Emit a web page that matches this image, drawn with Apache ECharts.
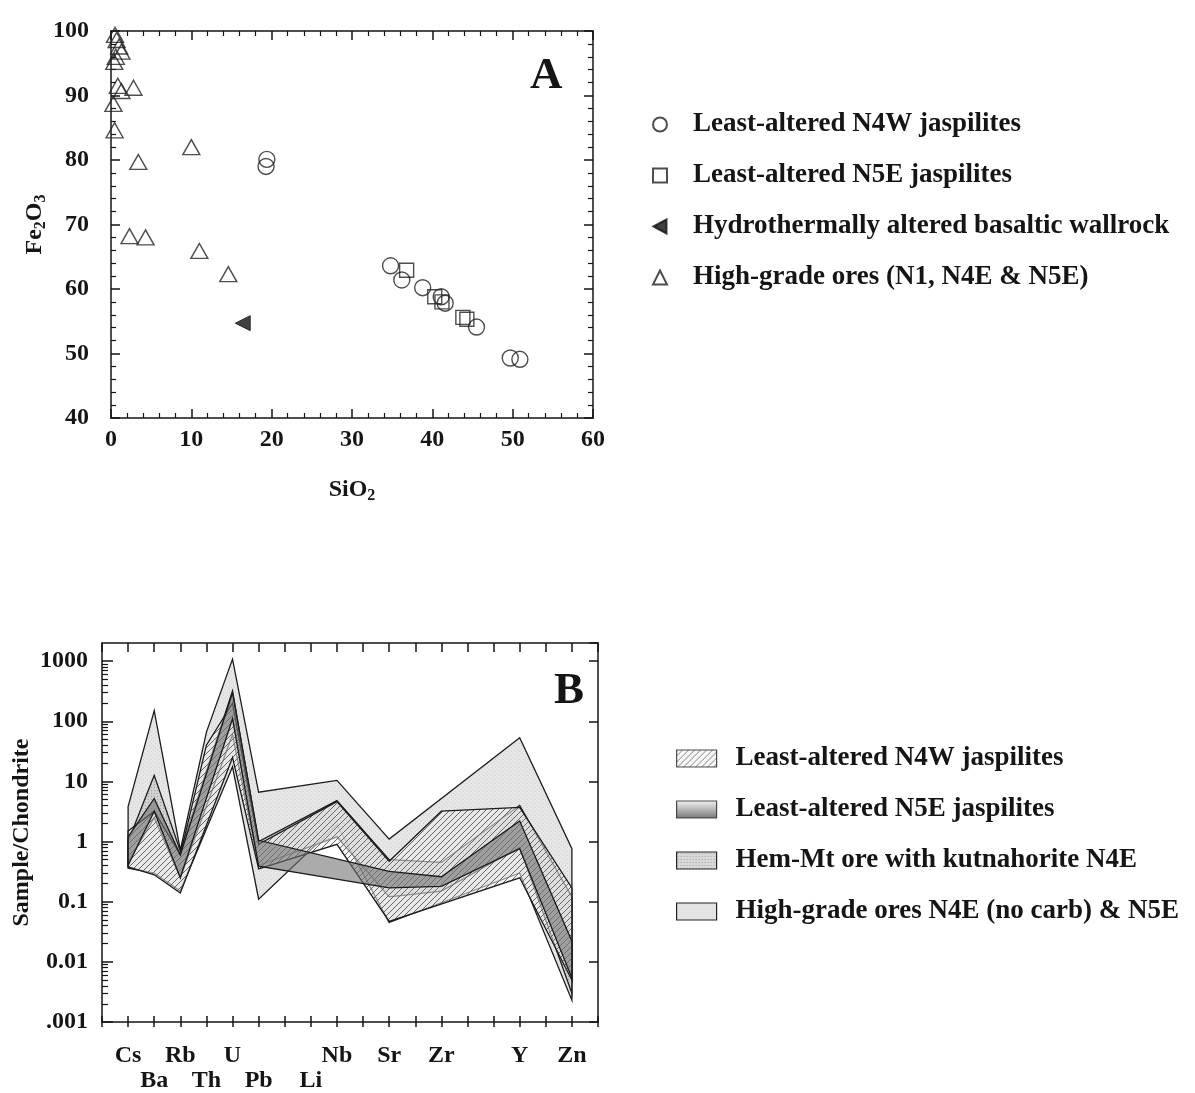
<!DOCTYPE html>
<html>
<head>
<meta charset="utf-8">
<script src="https://cdn.jsdelivr.net/npm/echarts@6/dist/echarts.min.js"></script>
<style>
  html, body { margin: 0; padding: 0; background: #fff; }
  #main { width: 1195px; height: 1093px; }
</style>
</head>
<body>
<div id="main"></div>
<script>
// ---------- panel A data (SiO2 vs Fe2O3, wt%) ----------
var n4wSiO2  = [19.4, 19.3, 34.8, 36.2, 38.8, 41.1, 41.6, 45.5, 49.7, 50.9];
var n4wFe2O3 = [80.1, 79.0, 63.6, 61.4, 60.2, 58.8, 57.8, 54.1, 49.3, 49.1];

var n5eSiO2  = [36.8, 40.3, 41.2, 43.8, 44.3];
var n5eFe2O3 = [62.9, 58.8, 58.0, 55.6, 55.3];

var wallSiO2  = [16.4];
var wallFe2O3 = [54.7];

var oreSiO2  = [0.5, 0.7, 1.0, 1.3, 0.6, 0.4, 0.85, 1.3, 2.8, 0.3, 0.45, 10.0, 3.4, 2.3, 4.3, 11.0, 14.6];
var oreFe2O3 = [99.4, 98.6, 97.6, 96.8, 96.0, 95.2, 91.5, 90.7, 91.2, 88.7, 84.6, 82.0, 79.7, 68.2, 68.0, 65.9, 62.3];

// ---------- panel B data (sample / chondrite) ----------
var elemNames = ['Cs', 'Ba', 'Rb', 'Th', 'U', 'Pb', 'Li', 'Nb', 'Sr', 'Zr', 'Y', 'Zn'];
var elemPos   = [0, 1, 2, 3, 4, 5, 7, 8, 10, 12, 15, 17];
var lowerRow  = ['Ba', 'Th', 'Pb', 'Li'];

// High-grade ores N4E (no carb) & N5E
var hgUpperEls = ['Cs', 'Ba', 'Rb', 'Th', 'U', 'Pb', 'Nb', 'Sr', 'Y', 'Zn'];
var hgUpper    = [3.8, 150, 0.72, 66, 1080, 6.6, 10.4, 1.1, 53, 0.76];
var hgLowerEls = ['Cs', 'Ba', 'Rb', 'U', 'Pb', 'Nb', 'Sr', 'Y', 'Zn'];
var hgLower    = [0.36, 0.3, 0.15, 17.5, 0.11, 1.9, 0.045, 0.3, 0.0023];

// Hem-Mt ore with kutnahorite N4E
var hmUpperEls = ['Cs', 'Ba', 'Rb', 'U', 'Pb', 'Nb', 'Sr', 'Zr', 'Y', 'Zn'];
var hmUpper    = [1.0, 12.6, 0.7, 320, 1.0, 4.8, 0.5, 0.45, 4.0, 0.12];
var hmLowerEls = ['Cs', 'Ba', 'Rb', 'U', 'Pb', 'Nb', 'Sr', 'Zr', 'Y', 'Zn'];
var hmLower    = [0.45, 2.5, 0.25, 60, 0.4, 1.2, 0.12, 0.15, 0.8, 0.003];

// Least-altered N4W jaspilites
var nwUpperEls = ['Cs', 'Ba', 'Rb', 'Th', 'U', 'Pb', 'Nb', 'Sr', 'Zr', 'Y', 'Zn'];
var nwUpper    = [1.5, 3.2, 0.6, 40, 200, 0.9, 4.6, 0.47, 3.2, 3.7, 0.17];
var nwLowerEls = ['Cs', 'Ba', 'Rb', 'U', 'Pb', 'Nb', 'Sr', 'Y', 'Zn'];
var nwLower    = [0.38, 0.28, 0.14, 25, 0.35, 0.9, 0.047, 0.25, 0.005];

// Least-altered N5E jaspilites
var neUpperEls = ['Cs', 'Ba', 'Rb', 'U', 'Pb', 'Sr', 'Zr', 'Y', 'Zn'];
var neUpper    = [1.2, 5.2, 0.6, 300, 1.05, 0.32, 0.26, 2.2, 0.022];
var neLowerEls = ['Cs', 'Ba', 'Rb', 'U', 'Pb', 'Sr', 'Zr', 'Y', 'Zn'];
var neLower    = [0.4, 3.2, 0.25, 110, 0.39, 0.17, 0.18, 0.76, 0.0054];

// ---------- helpers ----------
var FONT = '"Liberation Serif", "Times New Roman", serif';
var INK = '#151515';

function posOf(el) { return elemPos[elemNames.indexOf(el)]; }
function zip(a, b) { return a.map(function (v, i) { return [v, b[i]]; }); }

function makePattern(size, bg, draw) {
  var c = document.createElement('canvas');
  c.width = c.height = size;
  var g = c.getContext('2d');
  if (bg) { g.fillStyle = bg; g.fillRect(0, 0, size, size); }
  draw(g, size);
  return { image: c, repeat: 'repeat' };
}

var hatchFill = makePattern(6, 'rgba(236,236,236,0.55)', function (g, s) {
  g.strokeStyle = '#666'; g.lineWidth = 1;
  g.beginPath();
  g.moveTo(0, s); g.lineTo(s, 0);
  g.moveTo(-1, 1); g.lineTo(1, -1);
  g.moveTo(s - 1, s + 1); g.lineTo(s + 1, s - 1);
  g.stroke();
});
var hgFill = makePattern(4, '#e6e6e6', function (g) {
  g.fillStyle = '#d2d2d2'; g.fillRect(1, 1, 1, 1); g.fillRect(3, 3, 1, 1);
});
var hmFill = makePattern(3, 'rgba(200,200,200,0.7)', function (g) {
  g.fillStyle = 'rgba(150,150,150,0.8)'; g.fillRect(1, 1, 1, 1);
});
var neFill = 'rgba(115,115,115,0.6)';
var neLegend = new echarts.graphic.LinearGradient(0, 0, 0, 1, [
  { offset: 0, color: '#f0f0f0' }, { offset: 1, color: '#555' }
]);

function band(name, upEls, up, loEls, lo, fill, z) {
  return {
    type: 'custom', name: name, xAxisIndex: 2, yAxisIndex: 2, z: z,
    itemStyle: { color: fill },
    data: upEls.map(function (e, i) { return [posOf(e), up[i]]; }),
    renderItem: function (params, api) {
      if (params.dataIndex !== 0) return;
      var pts = [];
      upEls.forEach(function (e, i) { pts.push(api.coord([posOf(e), up[i]])); });
      for (var j = loEls.length - 1; j >= 0; j--) pts.push(api.coord([posOf(loEls[j]), lo[j]]));
      return {
        type: 'polygon', silent: true,
        shape: { points: pts },
        style: { fill: fill, stroke: '#1c1c1c', lineWidth: 1.3, lineJoin: 'miter' }
      };
    }
  };
}

var tickTxt = { fontFamily: FONT, fontWeight: 'bold', fontSize: 24, color: INK };
var lineSt = { color: INK, width: 1.5 };
var subRich = { s: { fontFamily: FONT, fontWeight: 'bold', fontSize: 16, color: INK, padding: [12, 0, 0, 0] } };

// minor log ticks 2..9 per decade
var logMinor = [];
for (var k = -3; k <= 3; k++) for (var m = 2; m <= 9; m++) {
  var v = m * Math.pow(10, k);
  if (v < 2000) logMinor.push(+v.toPrecision(3));
}

var chart = echarts.init(document.getElementById('main'));
chart.setOption({
  backgroundColor: '#fff',
  animation: false,
  title: [
    { text: 'A', left: 530, top: 54, padding: 0, textStyle: { fontFamily: FONT, fontWeight: 'bold', fontSize: 45, color: INK } },
    { text: 'B', left: 554, top: 669, padding: 0, textStyle: { fontFamily: FONT, fontWeight: 'bold', fontSize: 45, color: INK } }
  ],
  grid: [
    { left: 111, top: 31, width: 482, height: 387 },
    { left: 102, top: 643, width: 496, height: 381 }
  ],
  legend: [
    {
      orient: 'vertical', left: 647, top: 106, itemWidth: 14, itemHeight: 14, itemGap: 24,
      selectedMode: false,
      textStyle: { fontFamily: FONT, fontWeight: 'bold', fontSize: 27, color: INK, lineHeight: 24, padding: [0, 0, 0, 21] },
      data: [
        'Least-altered N4W jaspilites',
        'Least-altered N5E jaspilites',
        { name: 'Hydrothermally altered basaltic wallrock', icon: 'path://M0,7 L13,0 L13,14 Z' },
        'High-grade ores (N1, N4E & N5E)'
      ]
    },
    {
      orient: 'vertical', left: 671, top: 740, itemWidth: 40, itemHeight: 17, itemGap: 24,
      selectedMode: false,
      textStyle: { fontFamily: FONT, fontWeight: 'bold', fontSize: 27, color: INK, lineHeight: 24, padding: [0, 0, 0, 14] },
      data: [
        { name: 'Least-altered N4W jaspilites', icon: 'rect', itemStyle: { color: hatchFill, borderColor: '#222', borderWidth: 1.2 } },
        { name: 'Least-altered N5E jaspilites', icon: 'rect', itemStyle: { color: neLegend, borderColor: '#222', borderWidth: 1.2 } },
        { name: 'Hem-Mt ore with kutnahorite N4E', icon: 'rect', itemStyle: { color: hmFill, borderColor: '#222', borderWidth: 1.2 } },
        { name: 'High-grade ores N4E (no carb) & N5E', icon: 'rect', itemStyle: { color: hgFill, borderColor: '#222', borderWidth: 1.2 } }
      ]
    }
  ],
  xAxis: [
    { // A bottom
      gridIndex: 0, type: 'value', min: 0, max: 60, interval: 10, position: 'bottom',
      axisLine: { onZero: false, lineStyle: lineSt },
      axisTick: { inside: true, length: 9, lineStyle: lineSt },
      minorTick: { show: true, splitNumber: 5, length: 5, lineStyle: { color: INK, width: 1.2 } },
      splitLine: { show: false },
      axisLabel: Object.assign({ margin: 10 }, tickTxt),
      name: 'SiO{s|2}', nameLocation: 'middle', nameGap: 58,
      nameTextStyle: Object.assign({ rich: subRich }, tickTxt)
    },
    { // A top frame
      gridIndex: 0, type: 'value', min: 0, max: 60, interval: 10, position: 'top',
      axisLine: { onZero: false, lineStyle: lineSt },
      axisTick: { inside: true, length: 9, lineStyle: lineSt },
      minorTick: { show: true, splitNumber: 5, length: 5, lineStyle: { color: INK, width: 1.2 } },
      splitLine: { show: false }, axisLabel: { show: false }
    },
    { // B bottom
      gridIndex: 1, type: 'value', min: -1, max: 18, interval: 1, position: 'bottom',
      axisLine: { onZero: false, lineStyle: lineSt },
      axisTick: { inside: true, length: 6, lineStyle: lineSt },
      splitLine: { show: false },
      axisLabel: Object.assign({
        margin: 21, lineHeight: 25,
        formatter: function (v) {
          var i = elemPos.indexOf(v);
          if (i < 0) return '';
          var n = elemNames[i];
          return lowerRow.indexOf(n) >= 0 ? '\n' + n : n;
        }
      }, tickTxt)
    },
    { // B bottom outer tick halves
      gridIndex: 1, type: 'value', min: -1, max: 18, interval: 1, position: 'bottom',
      axisLine: { show: false, onZero: false },
      axisTick: { inside: false, length: 5, lineStyle: lineSt },
      splitLine: { show: false }, axisLabel: { show: false }
    },
    { // B top frame
      gridIndex: 1, type: 'value', min: -1, max: 18, interval: 1, position: 'top',
      axisLine: { onZero: false, lineStyle: lineSt },
      axisTick: { inside: true, length: 9, lineStyle: lineSt },
      splitLine: { show: false }, axisLabel: { show: false }
    }
  ],
  yAxis: [
    { // A left
      gridIndex: 0, type: 'value', min: 40, max: 100, interval: 10, position: 'left',
      axisLine: { onZero: false, lineStyle: lineSt },
      axisTick: { inside: true, length: 9, lineStyle: lineSt },
      minorTick: { show: true, splitNumber: 5, length: 5, lineStyle: { color: INK, width: 1.2 } },
      splitLine: { show: false },
      axisLabel: Object.assign({ margin: 22 }, tickTxt),
      name: 'Fe{s|2}O{s|3}', nameLocation: 'middle', nameGap: 62,
      nameTextStyle: Object.assign({ rich: subRich }, tickTxt)
    },
    { // A right frame
      gridIndex: 0, type: 'value', min: 40, max: 100, interval: 10, position: 'right',
      axisLine: { onZero: false, lineStyle: lineSt },
      axisTick: { inside: true, length: 9, lineStyle: lineSt },
      minorTick: { show: true, splitNumber: 5, length: 5, lineStyle: { color: INK, width: 1.2 } },
      splitLine: { show: false }, axisLabel: { show: false }
    },
    { // B left (log)
      gridIndex: 1, type: 'log', logBase: 10, min: 0.001, max: 2000, position: 'left',
      axisLine: { onZero: false, lineStyle: lineSt },
      axisTick: { inside: true, length: 11, lineStyle: lineSt },
      splitLine: { show: false },
      axisLabel: Object.assign({
        margin: 14, showMaxLabel: false,
        formatter: function (v) { return v === 0.001 ? '.001' : String(v); }
      }, tickTxt),
      name: 'Sample/Chondrite', nameLocation: 'middle', nameGap: 68,
      nameTextStyle: tickTxt
    },
    { // B left minor log ticks
      gridIndex: 1, type: 'log', logBase: 10, min: 0.001, max: 2000, position: 'left',
      axisLine: { show: false, onZero: false },
      axisTick: { inside: true, length: 6, customValues: logMinor, lineStyle: { color: INK, width: 1.2 } },
      splitLine: { show: false }, axisLabel: { show: false }
    },
    { // B right frame
      gridIndex: 1, type: 'log', logBase: 10, min: 0.001, max: 2000, position: 'right',
      axisLine: { onZero: false, lineStyle: lineSt },
      axisTick: { inside: true, length: 9, lineStyle: lineSt },
      splitLine: { show: false }, axisLabel: { show: false }
    }
  ],
  series: [
    {
      type: 'scatter', name: 'Least-altered N4W jaspilites', xAxisIndex: 0, yAxisIndex: 0,
      symbol: 'circle', symbolSize: 16, data: zip(n4wSiO2, n4wFe2O3),
      itemStyle: { color: 'transparent', borderColor: '#222', borderWidth: 1.4 }
    },
    {
      type: 'scatter', name: 'Least-altered N5E jaspilites', xAxisIndex: 0, yAxisIndex: 0,
      symbol: 'rect', symbolSize: 14, data: zip(n5eSiO2, n5eFe2O3),
      itemStyle: { color: 'transparent', borderColor: '#222', borderWidth: 1.4 }
    },
    {
      type: 'scatter', name: 'Hydrothermally altered basaltic wallrock', xAxisIndex: 0, yAxisIndex: 0,
      symbol: 'triangle', symbolRotate: 90, symbolSize: 15, data: zip(wallSiO2, wallFe2O3),
      itemStyle: { color: '#111', borderColor: '#111', borderWidth: 1 }
    },
    {
      type: 'scatter', name: 'High-grade ores (N1, N4E & N5E)', xAxisIndex: 0, yAxisIndex: 0,
      symbol: 'triangle', symbolSize: [17, 15], data: zip(oreSiO2, oreFe2O3),
      itemStyle: { color: 'transparent', borderColor: '#222', borderWidth: 1.4 }
    },
    band('High-grade ores N4E (no carb) & N5E', hgUpperEls, hgUpper, hgLowerEls, hgLower, hgFill, 2),
    band('Hem-Mt ore with kutnahorite N4E', hmUpperEls, hmUpper, hmLowerEls, hmLower, hmFill, 3),
    band('Least-altered N4W jaspilites', nwUpperEls, nwUpper, nwLowerEls, nwLower, hatchFill, 4),
    band('Least-altered N5E jaspilites', neUpperEls, neUpper, neLowerEls, neLower, neFill, 5)
  ]
});
</script>
</body>
</html>
